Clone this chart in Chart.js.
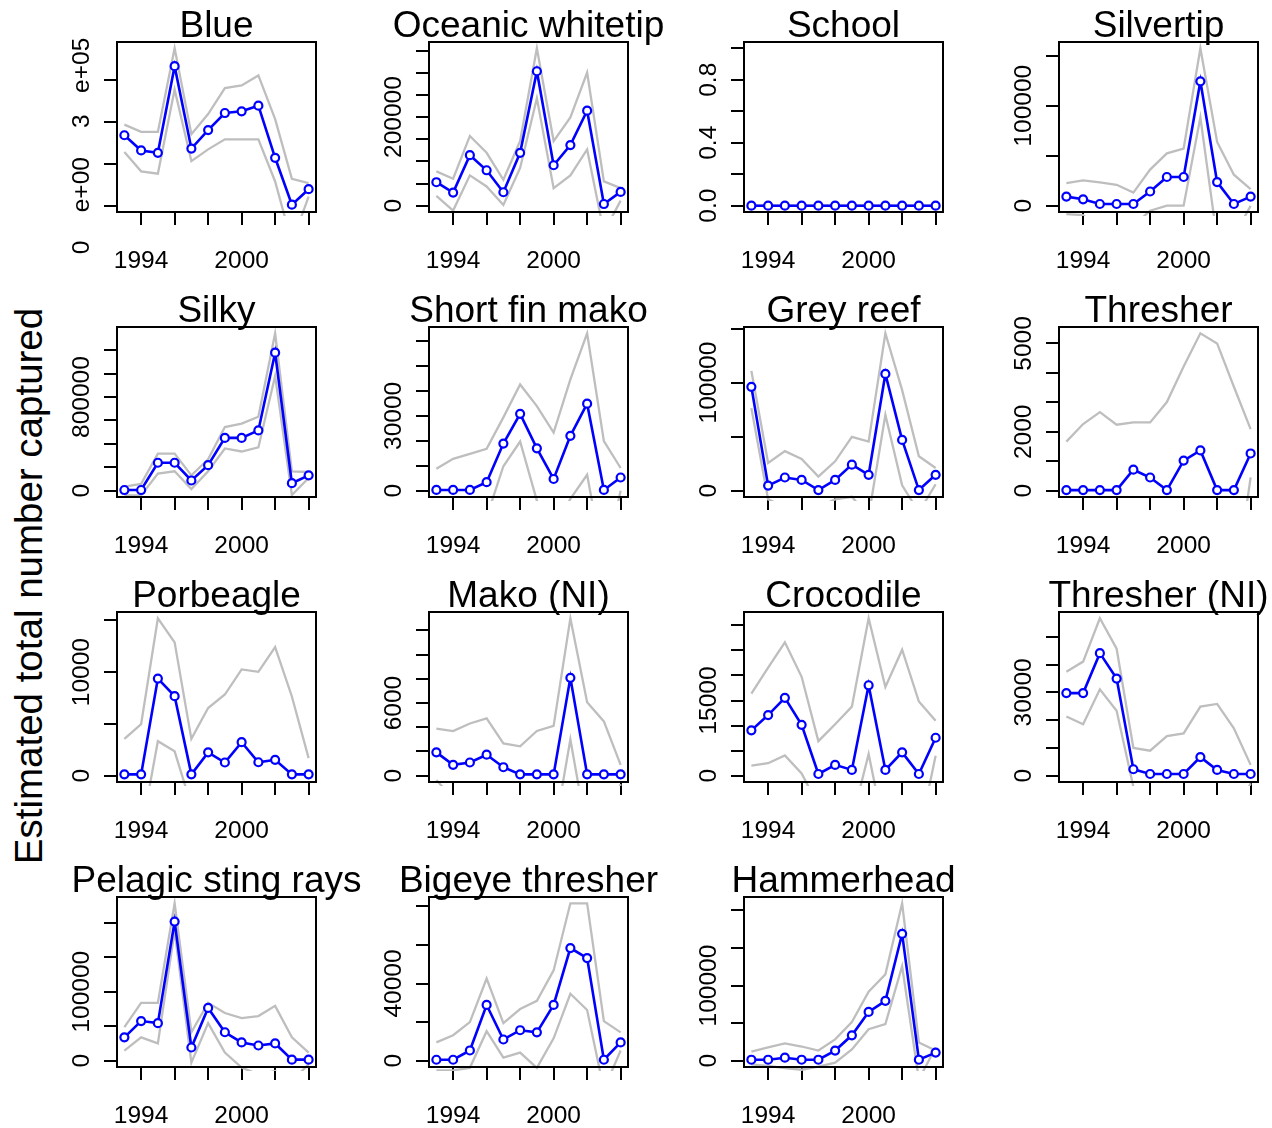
<!DOCTYPE html>
<html><head><meta charset="utf-8">
<script src="https://cdn.jsdelivr.net/npm/chart.js@4.4.1/dist/chart.umd.min.js"></script>
<style>
html,body{margin:0;padding:0;background:#fff;overflow:hidden;width:1272px;height:1128px;position:relative;}
canvas{position:absolute;}
#ylab{position:absolute;left:29px;top:586px;font:38.5px "Liberation Sans",Arial,sans-serif;line-height:38.5px;white-space:nowrap;color:#000;transform:translate(-50%,-50%) rotate(-90deg);}
</style></head><body>
<div id="ylab">Estimated total number captured</div>
<script>
const years = [1993,1994,1995,1996,1997,1998,1999,2000,2001,2002,2003,2004];
const xTickVals = [1994,1996,1998,2000,2002,2004];
const xTickLabels = [1994,2000];

const blueEst = [167600,131500,125900,332000,136000,180000,220500,224500,238000,114000,2400,39300];
const blueHi  = [193000,175600,175600,374500,170000,218000,280000,286000,310000,206000,64000,53700];
const blueLo  = [127500,81800,76200,276700,105900,134000,158000,158000,158000,57700,-88000,21700];

const owtEst = [53000,29700,114000,80000,30400,119500,303600,91300,137000,214600,3800,31200];
const owtHi  = [77600,60900,157500,119500,58600,146000,355400,146000,199400,300600,54800,39600];
const owtLo  = [22000,-11000,68500,43400,1500,85200,242800,39600,68500,127000,-60000,11400];

const schoolEst = [0,0,0,0,0,0,0,0,0,0,0,0];
const schoolHi  = [0,0,0,0,0,0,0,0,0,0,0,0];
const schoolLo  = [0,0,0,0,0,0,0,0,0,0,0,0];

const silvertipEst = [9100,6400,1700,1700,1700,14200,28700,28700,124400,23600,1700,9100];
const silvertipHi  = [22600,25300,23300,20900,13100,36100,52300,57000,157400,63700,31000,16500];
const silvertipLo  = [-8400,-9400,-25000,-25000,-20000,-5000,0,0,88300,-34000,-31000,0];

const silkyEst = [5800,5800,238700,238700,87300,218000,451000,451000,515000,1179000,64000,131000];
const silkyHi  = [35000,58000,317000,317000,131000,268000,544000,573000,632000,1345000,166000,160000];
const silkyLo  = [-40000,-40000,145600,166000,14600,166000,361000,335000,370000,981000,-38000,108000];

const sfmEst = [300,300,300,3400,18900,30800,17000,4700,22000,34900,300,5300];
const sfmHi  = [8800,12800,14800,16800,29400,42600,33900,23300,44600,63100,19900,9100];
const sfmLo  = [-10000,-10000,-10000,-10600,9800,19700,-4000,-15000,-3300,6400,-30000,0];

const greyEst = [96100,4700,12200,10000,600,10000,24100,14700,108000,47000,600,14700];
const greyHi  = [110800,25700,36600,29400,13100,27200,49800,45400,145600,93000,31900,21000];
const greyLo  = [76400,-8000,-15000,-15000,-15000,-8000,-5600,-23800,70100,5000,-20000,6000];

const threshEst = [20,20,20,20,713,448,20,1023,1368,20,20,1264];
const threshHi  = [1667,2264,2667,2241,2320,2320,3011,4218,5345,5000,3529,2092];
const threshLo  = [-1600,-2200,-2600,-2200,-900,-1400,-3000,-2200,-2600,-5000,-3500,450];

const porbEst = [130,130,9380,7680,130,2255,1275,3235,1300,1535,130,130];
const porbHi  = [3560,4970,15200,12870,3560,6535,7840,10260,10030,12420,7650,1700];
const porbLo  = [-3300,-5500,3330,2350,-2900,-2000,-5300,-3800,-7400,-9300,-7400,-1400];

const makoNIEst = [1930,895,1090,1734,700,110,110,110,8080,110,110,110];
const makoNIHi  = [3890,3690,4310,4730,2660,2430,3690,4110,13000,6070,4480,895];
const makoNILo  = [-360,-1900,-2100,-1300,-1300,-2200,-3500,-5000,2990,-4800,-4300,-700];

const crocEst = [9050,12100,15540,10140,340,2160,1150,18040,1150,4660,340,7570];
const crocHi  = [16350,21550,26620,19730,6890,10270,13780,31400,17700,25140,14800,10950];
const crocLo  = [2030,2500,4050,470,-6000,-6000,-9000,4320,-12000,-15000,-12000,4000];

const threshNIEst = [29760,29760,44150,35000,2320,610,610,610,6700,2070,610,610];
const threshNIHi  = [37440,41100,56700,45730,10000,9020,14270,15240,24880,25850,17070,3900];
const threshNILo  = [21340,18540,31100,23410,-4000,-8000,-13000,-14000,-11000,-21000,-16000,-2700];

const pelagicEst = [33800,57400,54400,201500,19100,76500,41200,26500,22000,25000,1500,1500];
const pelagicHi  = [48500,83800,83800,228000,41200,83800,69100,61800,64700,79400,33800,11800];
const pelagicLo  = [14700,33800,25000,188000,-2900,54400,11800,-10000,-20000,-15000,-30000,-5000];

const bigeyeEst = [500,500,5300,28900,11000,15800,14700,28900,58400,53200,500,9500];
const bigeyeHi  = [9500,13200,20000,42600,19500,26800,31000,46800,81600,81600,20500,14700];
const bigeyeLo  = [-5000,-5000,-3700,15300,1600,4200,-3700,11600,34700,26300,-15000,5300];

const hammerEst = [1300,1300,4000,1300,1300,13500,33800,64900,79700,168900,1300,10800];
const hammerHi  = [12200,17600,23000,18900,13500,28400,51400,91900,114900,209500,24300,13500];
const hammerLo  = [-5000,-7000,-10000,-12000,-8000,-2700,14900,41900,48600,125700,-25000,17600];

// y tick positions and visible y tick labels
const blueTicks = [0,100000,200000,300000];
const blueLabels = [[-99000,'0'],[50000,'e+00'],[201000,'3'],[334000,'e+05']];
const owtTicks = [0,50000,100000,150000,200000,250000,300000,350000];
const owtLabels = [[0,'0'],[200000,'200000']];
const schoolTicks = [0,0.2,0.4,0.6,0.8,1.0];
const schoolLabels = [[0,'0.0'],[0.4,'0.4'],[0.8,'0.8']];
const silvertipTicks = [0,50000,100000,150000];
const silvertipLabels = [[0,'0'],[100000,'100000']];
const silkyTicks = [0,200000,400000,600000,800000,1000000,1200000];
const silkyLabels = [[0,'0'],[800000,'800000']];
const sfmTicks = [0,10000,20000,30000,40000,50000,60000];
const sfmLabels = [[0,'0'],[30000,'30000']];
const greyTicks = [0,50000,100000,150000];
const greyLabels = [[0,'0'],[100000,'100000']];
const threshTicks = [0,1000,2000,3000,4000,5000];
const threshLabels = [[0,'0'],[2000,'2000'],[5000,'5000']];
const porbTicks = [0,5000,10000,15000];
const porbLabels = [[0,'0'],[10000,'10000']];
const makoNITicks = [0,2000,4000,6000,8000,10000,12000];
const makoNILabels = [[0,'0'],[6000,'6000']];
const crocTicks = [0,5000,10000,15000,20000,25000,30000];
const crocLabels = [[0,'0'],[15000,'15000']];
const threshNITicks = [0,10000,20000,30000,40000,50000];
const threshNILabels = [[0,'0'],[30000,'30000']];
const pelagicTicks = [0,50000,100000,150000,200000];
const pelagicLabels = [[0,'0'],[100000,'100000']];
const bigeyeTicks = [0,20000,40000,60000,80000];
const bigeyeLabels = [[0,'0'],[40000,'40000']];
const hammerTicks = [0,50000,100000,150000,200000];
const hammerLabels = [[0,'0'],[100000,'100000']];

const titles = ['Blue','Oceanic whitetip','School','Silvertip','Silky','Short fin mako','Grey reef','Thresher',
  'Porbeagle','Mako (NI)','Crocodile','Thresher (NI)','Pelagic sting rays','Bigeye thresher','Hammerhead'];

const panels = [
  [blueEst,blueHi,blueLo,blueTicks,blueLabels],
  [owtEst,owtHi,owtLo,owtTicks,owtLabels],
  [schoolEst,schoolHi,schoolLo,schoolTicks,schoolLabels],
  [silvertipEst,silvertipHi,silvertipLo,silvertipTicks,silvertipLabels],
  [silkyEst,silkyHi,silkyLo,silkyTicks,silkyLabels],
  [sfmEst,sfmHi,sfmLo,sfmTicks,sfmLabels],
  [greyEst,greyHi,greyLo,greyTicks,greyLabels],
  [threshEst,threshHi,threshLo,threshTicks,threshLabels],
  [porbEst,porbHi,porbLo,porbTicks,porbLabels],
  [makoNIEst,makoNIHi,makoNILo,makoNITicks,makoNILabels],
  [crocEst,crocHi,crocLo,crocTicks,crocLabels],
  [threshNIEst,threshNIHi,threshNILo,threshNITicks,threshNILabels],
  [pelagicEst,pelagicHi,pelagicLo,pelagicTicks,pelagicLabels],
  [bigeyeEst,bigeyeHi,bigeyeLo,bigeyeTicks,bigeyeLabels],
  [hammerEst,hammerHi,hammerLo,hammerTicks,hammerLabels]
];

const FONT = '"Liberation Sans", Arial, Helvetica, sans-serif';
const boxLeft = [117,429,744,1059];
const boxTop = [42,327,612,897];
const BW = 199, BH = 170;
const CW = 370, CH = 273, OFFL = 105, OFFT = 42, TL = 13;

function pts(arr){ return years.map((yr,i)=>({x:yr,y:arr[i]})); }

panels.forEach((p, idx) => {
  const [est, hi, lo, yt, yl] = p;
  const title = titles[idx];
  const col = idx % 4, row = Math.floor(idx / 4);
  const cv = document.createElement('canvas');
  cv.width = CW; cv.height = CH;
  cv.style.left = (boxLeft[col] - OFFL) + 'px';
  cv.style.top = (boxTop[row] - OFFT) + 'px';
  cv.style.width = CW + 'px'; cv.style.height = CH + 'px';
  document.body.appendChild(cv);

  let top = Math.max(...hi);
  if (top <= 0) top = 1;
  const yMin = -0.04 * top, yMax = 1.04 * top;

  const deco = {
    id: 'deco' + idx,
    afterDraw(chart) {
      const ctx = chart.ctx, a = chart.chartArea, xs = chart.scales.x, ys = chart.scales.y;
      ctx.save();
      ctx.strokeStyle = '#000'; ctx.lineWidth = 2;
      ctx.strokeRect(a.left, a.top, a.right - a.left, a.bottom - a.top);
      ctx.fillStyle = '#000';
      ctx.textAlign = 'center'; ctx.textBaseline = 'alphabetic';
      ctx.font = '37px ' + FONT;
      ctx.fillText(title, (a.left + a.right) / 2, a.top - 5);
      ctx.font = '24.5px ' + FONT;
      xTickLabels.forEach(v => ctx.fillText(String(v), xs.getPixelForValue(v), a.bottom + 56));
      yl.forEach(([v, t]) => {
        ctx.save();
        ctx.translate(a.left - 28, ys.getPixelForValue(v));
        ctx.rotate(-Math.PI / 2);
        ctx.fillText(t, 0, 0);
        ctx.restore();
      });
      ctx.restore();
    }
  };

  const clip = {left: 2, top: 2, right: 2, bottom: 4};
  new Chart(cv, {
    type: 'line',
    data: {
      datasets: [
        {data: pts(est), borderColor: '#0000ff', borderWidth: 2.6, pointRadius: 4, pointBorderWidth: 2.2,
         pointBackgroundColor: '#ffffff', pointBorderColor: '#0000ff', tension: 0, clip},
        {data: pts(hi), borderColor: '#bebebe', borderWidth: 2.3, pointRadius: 0, tension: 0, clip},
        {data: pts(lo), borderColor: '#bebebe', borderWidth: 2.3, pointRadius: 0, tension: 0, clip}
      ]
    },
    options: {
      responsive: false, animation: false, devicePixelRatio: 1,
      events: [],
      layout: {padding: {left: OFFL - TL, top: OFFT, right: CW - OFFL - BW, bottom: CH - OFFT - BH - TL}},
      plugins: {legend: {display: false}, tooltip: {enabled: false}, title: {display: false}},
      scales: {
        x: {
          type: 'linear', min: 1992.56, max: 2004.44,
          afterBuildTicks: s => { s.ticks = xTickVals.map(v => ({value: v})); },
          afterFit: s => { s.height = TL; },
          ticks: {display: false},
          border: {display: false},
          grid: {drawOnChartArea: false, drawTicks: true, tickLength: TL, tickColor: '#000', tickWidth: 2, color: '#000', lineWidth: 2}
        },
        y: {
          type: 'linear', min: yMin, max: yMax,
          afterBuildTicks: s => { s.ticks = yt.map(v => ({value: v})); },
          afterFit: s => { s.width = TL; },
          ticks: {display: false},
          border: {display: false},
          grid: {drawOnChartArea: false, drawTicks: true, tickLength: TL, tickColor: '#000', tickWidth: 2, color: '#000', lineWidth: 2}
        }
      }
    },
    plugins: [deco]
  });
});
</script>
</body></html>
